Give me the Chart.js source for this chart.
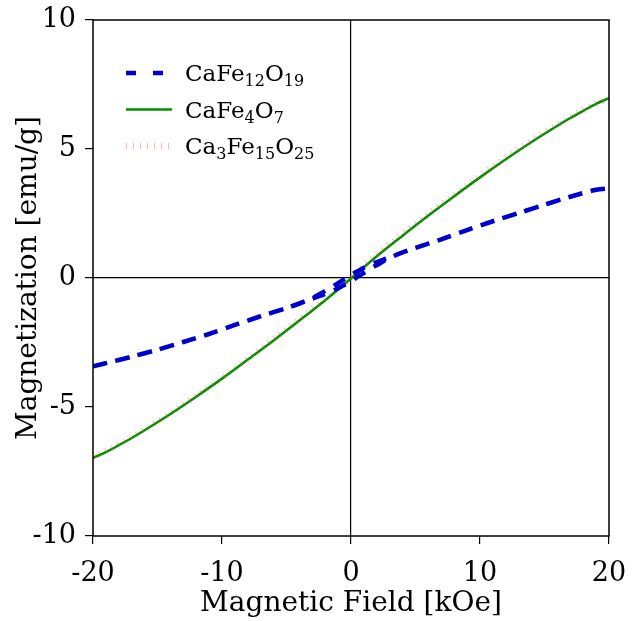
<!DOCTYPE html>
<html>
<head>
<meta charset="utf-8">
<script src="https://cdn.jsdelivr.net/npm/chart.js@4"></script>
<style>
  html, body { margin: 0; padding: 0; background: #fff; }
</style>
</head>
<body>
<canvas id="chart" width="641" height="621"></canvas>
<script>
// field values in kOe, magnetization in emu/g
const fieldBlue = [
  -20, -19, -17, -15, -13, -11, -9, -7, -5, -4, -3, -2, -1.5, -1, -0.5, 0, 0.5, 1, 1.5, 2, 3,
  4, 5, 7, 9, 11, 13, 15, 17, 19, 20,
  19, 17, 15, 13, 11, 9, 7, 5, 4, 3, 2, 1.5, 1, 0.5, 0, -0.5, -1, -1.5, -2, -3,
  -4, -5, -7, -9, -11, -13, -15, -17, -19, -20,
];
const momentBlue = [
  -3.42, -3.3, -3.05, -2.78, -2.48, -2.17, -1.82, -1.48, -1.17, -0.98, -0.8, -0.62, -0.52, -0.4, -0.26, -0.12, 0.04, 0.2, 0.36, 0.5, 0.78,
  0.99, 1.17, 1.5, 1.86, 2.2, 2.52, 2.84, 3.15, 3.42, 3.47,
  3.42, 3.15, 2.84, 2.52, 2.2, 1.86, 1.5, 1.17, 0.99, 0.8, 0.62, 0.52, 0.4, 0.26, 0.12, -0.04, -0.2, -0.36, -0.5, -0.78,
  -0.99, -1.17, -1.48, -1.82, -2.17, -2.48, -2.78, -3.05, -3.3, -3.42,
];

const fieldGreen = [-20, -19, -18, -17, -16, -14, -12, -10, -8, -6, -4, -2, 0, 2, 4, 6, 8, 10, 12, 14, 16, 17, 18, 19, 20];
const momentGreen = [-6.97, -6.75, -6.48, -6.2, -5.9, -5.27, -4.6, -3.9, -3.16, -2.42, -1.65, -0.86, -0.02, 0.84, 1.64, 2.42, 3.17, 3.9, 4.6, 5.27, 5.9, 6.2, 6.48, 6.75, 6.97];

const fieldRed = [-20, -18, -16, -14, -12, -10, -8, -6, -4, -2, 0, 2, 4, 6, 8, 10, 12, 14, 16, 18, 20];
const momentRed = [-6.95, -6.45, -5.87, -5.24, -4.57, -3.87, -3.13, -2.38, -1.6, -0.8, 0.02, 0.9, 1.7, 2.48, 3.22, 3.95, 4.66, 5.33, 5.96, 6.5, 6.97];

// legend labels: [text, subscript] runs
const seriesNames = [
  [['CaFe', false], ['12', true], ['O', false], ['19', true]],
  [['CaFe', false], ['4', true], ['O', false], ['7', true]],
  [['Ca', false], ['3', true], ['Fe', false], ['15', true], ['O', false], ['25', true]],
];
const xTicks = [-20, -10, 0, 10, 20];
const yTicks = [-10, -5, 0, 5, 10];

const toPoints = (xs, ys) => xs.map((x, i) => ({ x, y: ys[i] }));
const plainName = (runs) => runs.map((r) => r[0]).join('');

const serif = '"DejaVu Serif", "Liberation Serif", serif';

// legend drawn inside the plot area, top left, with line samples
const insideLegend = {
  id: 'insideLegend',
  afterDraw(chart) {
    const { ctx, chartArea } = chart;
    const x0 = chartArea.left + 33;
    const lineLen = 46;
    ctx.save();
    chart.data.datasets.forEach((ds, i) => {
      const y = chartArea.top + 53 + i * 36.5;
      ctx.beginPath();
      ctx.strokeStyle = ds.borderColor;
      ctx.lineWidth = ds.borderWidth;
      ctx.setLineDash(ds.legendDash || []);
      ctx.moveTo(x0, y);
      ctx.lineTo(x0 + lineLen, y);
      ctx.stroke();
      ctx.setLineDash([]);
      ctx.fillStyle = '#000';
      ctx.textBaseline = 'alphabetic';
      let tx = x0 + lineLen + 13;
      seriesNames[i].forEach(([txt, sub]) => {
        ctx.font = (sub ? '16px ' : '23px ') + serif;
        ctx.fillText(txt, tx, y + (sub ? 13 : 8));
        tx += ctx.measureText(txt).width;
      });
    });
    ctx.restore();
  },
};

// box round the plot area
const frame = {
  id: 'frame',
  afterDraw(chart) {
    const { ctx, chartArea } = chart;
    ctx.save();
    ctx.strokeStyle = '#000';
    ctx.lineWidth = 1.5;
    ctx.strokeRect(chartArea.left, chartArea.top, chartArea.right - chartArea.left, chartArea.bottom - chartArea.top);
    ctx.restore();
  },
};

const axisGrid = {
  color: (c) => (c.tick && c.tick.value === 0 ? '#000' : 'rgba(0,0,0,0)'),
  lineWidth: 1.2,
  tickColor: '#000',
  tickLength: 8,
  tickWidth: 1.2,
};

// eslint-disable-next-line no-new, no-undef
new Chart(document.getElementById('chart'), {
  type: 'scatter',
  data: {
    datasets: [
      {
        label: plainName(seriesNames[0]),
        data: toPoints(fieldBlue, momentBlue),
        showLine: true,
        borderColor: 'rgb(0, 0, 205)',
        borderWidth: 4.5,
        borderDash: [13, 10],
        legendDash: [10, 17],
        pointRadius: 0,
        tension: 0.3,
        order: 1,
      },
      {
        label: plainName(seriesNames[1]),
        data: toPoints(fieldGreen, momentGreen),
        showLine: true,
        borderColor: 'rgb(0, 145, 0)',
        borderWidth: 2.5,
        pointRadius: 0,
        cubicInterpolationMode: 'monotone',
        order: 3,
      },
      {
        label: plainName(seriesNames[2]),
        data: toPoints(fieldRed, momentRed),
        showLine: true,
        borderColor: 'rgba(255, 80, 80, 0.45)',
        borderWidth: 6,
        borderDash: [1, 6],
        legendDash: [1, 6],
        pointRadius: 0,
        cubicInterpolationMode: 'monotone',
        order: 2,
      },
    ],
  },
  options: {
    responsive: false,
    animation: false,
    layout: { padding: { top: 20, right: 32, left: 0, bottom: 0 } },
    plugins: {
      legend: { display: false },
      tooltip: { enabled: false },
    },
    scales: {
      x: {
        type: 'linear',
        min: -20,
        max: 20,
        afterBuildTicks: (scale) => { scale.ticks = xTicks.map((v) => ({ value: v })); },
        afterFit: (scale) => {
          scale.height = 85;
          scale.paddingLeft = 0;
          scale.paddingRight = 0;
        },
        grid: axisGrid,
        border: { display: false },
        ticks: {
          color: '#000',
          font: { family: serif, size: 27 },
          padding: 14,
          maxRotation: 0,
        },
        title: {
          display: true,
          text: 'Magnetic Field [kOe]',
          color: '#000',
          font: { family: serif, size: 28 },
          padding: { top: 0, bottom: 0 },
        },
      },
      y: {
        type: 'linear',
        min: -10,
        max: 10,
        afterBuildTicks: (scale) => { scale.ticks = yTicks.map((v) => ({ value: v })); },
        afterFit: (scale) => {
          scale.width = 93;
          scale.paddingTop = 0;
          scale.paddingBottom = 0;
        },
        grid: axisGrid,
        border: { display: false },
        ticks: {
          color: '#000',
          font: { family: serif, size: 27 },
          padding: 9,
        },
        title: {
          display: true,
          text: 'Magnetization [emu/g]',
          color: '#000',
          font: { family: serif, size: 28 },
          padding: { top: 12, bottom: 0 },
        },
      },
    },
  },
  plugins: [frame, insideLegend],
});
</script>
</body>
</html>
